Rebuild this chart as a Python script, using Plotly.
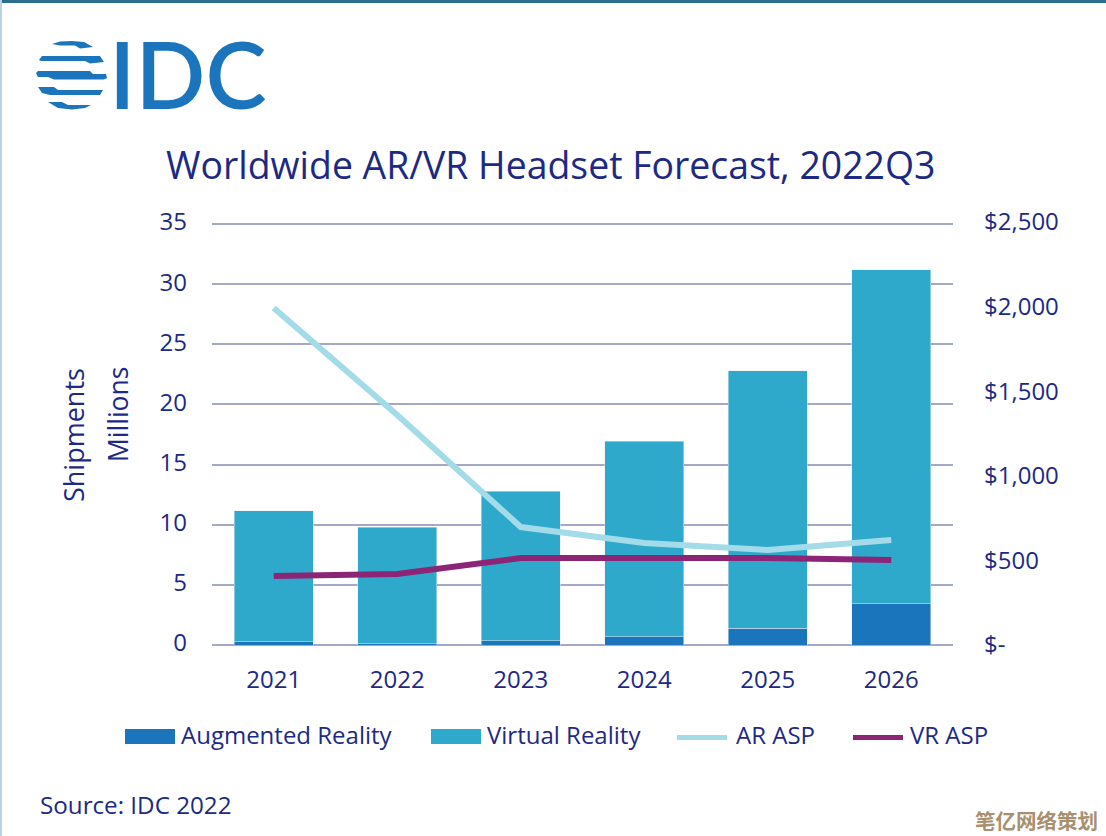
import plotly.graph_objects as go

years = ["2021", "2022", "2023", "2024", "2025", "2026"]
ar_units = [0.25, 0.10, 0.35, 0.70, 1.40, 3.45]
vr_units = [10.90, 9.67, 12.45, 16.25, 21.40, 27.75]
ar_asp = [1992, 1359, 697, 603, 561, 620]
vr_asp = [408, 420, 514, 514, 514, 502]
left_ticks = [0, 5, 10, 15, 20, 25, 30, 35]
right_vals = [0, 500, 1000, 1500, 2000, 2500]
right_text = ["$-", "$500", "$1,000", "$1,500", "$2,000", "$2,500"]

W, H = 1106, 836
L, R, T, B = 212, 953, 222, 645
NAVY = "#1c2a85"
GRID = "#a3a9c8"
AR_C, VR_C, ARL_C, VRL_C = "#1b75bc", "#2fa9cb", "#a3dbe9", "#8d2577"
FONT = "Open Sans"


def px(x):
    return (x - L) / (R - L)


def py(y):
    return (B - y) / (B - T)


fig = go.Figure()
fig.add_bar(x=years, y=ar_units, name="Augmented Reality", marker_color=AR_C, yaxis="y")
fig.add_bar(x=years, y=vr_units, name="Virtual Reality", marker_color=VR_C, yaxis="y")
fig.add_scatter(x=years, y=ar_asp, name="AR ASP", mode="lines", yaxis="y2",
                line=dict(color=ARL_C, width=6))
fig.add_scatter(x=years, y=vr_asp, name="VR ASP", mode="lines", yaxis="y2",
                line=dict(color=VRL_C, width=6))

shapes = []


def rect(x0, y0, x1, y1, color):
    shapes.append(dict(type="rect", xref="paper", yref="paper", x0=px(x0), x1=px(x1),
                       y0=py(y0), y1=py(y1), fillcolor=color, line_width=0, layer="above"))


def poly(points, color):
    d = "M" + " L".join(f"{px(a):.5f},{py(b):.5f}" for a, b in points) + " Z"
    shapes.append(dict(type="path", xref="paper", yref="paper", path=d,
                       fillcolor=color, line_width=0, layer="above"))


# page edges
rect(0, 0, W, 3, "#2c6e8f")
rect(0, 0, 2, H, "#b9d3e6")
# logo globe stripes
poly([(52, 44), (60, 41.5), (72, 41), (84, 42), (93, 47), (80, 48.5), (75, 45.5), (60, 45.5)], AR_C)
poly([(39, 60), (42, 56), (100, 56), (104, 62), (90, 63.5), (85, 61), (41, 61)], AR_C)
poly([(36, 73), (38, 71), (90, 71), (93, 74), (106, 74), (107, 78), (104, 79.5), (54, 79.5), (48, 77), (38, 77)], AR_C)
poly([(38, 87), (54, 87), (58, 90), (103, 90), (100, 95), (50, 95), (42, 93)], AR_C)
poly([(48, 102), (62, 102), (68, 105), (91, 105), (85, 108), (72, 109.5), (58, 108)], AR_C)

# legend swatches
rect(125, 729, 175, 744, AR_C)
rect(431, 729, 481, 744, VR_C)
rect(677, 735, 727, 740, ARL_C)
rect(853, 735, 903, 740, VRL_C)


def text(x, y, s, size, color=NAVY, anchor="left", angle=0, family=FONT, **kw):
    return dict(text=s, x=px(x), y=py(y), xref="paper", yref="paper", showarrow=False,
                xanchor=anchor, yanchor="middle", textangle=angle,
                font=dict(family=family, size=size, color=color, **kw))


annotations = [
    text(107, 73, "IDC", 92, color=AR_C, family="Lato", weight=600),
    text(164, 164, "Worldwide AR/VR Headset Forecast, 2022Q3", 37.4),
    text(73, 435, "Shipments", 27, anchor="center", angle=-90),
    text(118, 415, "Millions", 26.5, anchor="center", angle=-90),
    text(179, 734, "Augmented Reality", 24),
    text(485, 734, "Virtual Reality", 24),
    text(734, 734, "AR ASP", 24),
    text(908, 734, "VR ASP", 24),
    text(38, 804, "Source: IDC 2022", 24.2),
    text(1100, 820, "笔亿网络策划", 20.5, color="#a8906f", anchor="right",
         family="Noto Sans CJK SC", weight="bold"),
]

fig.update_layout(
    width=W, height=H, autosize=False,
    margin=dict(l=L, r=W - R, t=T, b=H - B, pad=0),
    paper_bgcolor="white", plot_bgcolor="white",
    barmode="stack", bargap=0.36, showlegend=False,
    font=dict(family=FONT, size=24, color=NAVY),
    shapes=shapes, annotations=annotations,
    xaxis=dict(type="category", showgrid=False, ticks="", showline=False,
               ticklabelstandoff=18, tickfont=dict(size=24, color=NAVY)),
    yaxis=dict(range=[0, 35.166], tickvals=left_ticks, gridcolor=GRID, gridwidth=1.5,
               zeroline=True, zerolinecolor=GRID, zerolinewidth=1.5, showline=False,
               ticks="", ticklabelstandoff=24, ticklabelshift=-2,
               tickfont=dict(size=24, color=NAVY)),
    yaxis2=dict(range=[0, 2500], overlaying="y", side="right", tickvals=right_vals,
                ticktext=right_text, showgrid=False, zeroline=False, showline=False,
                ticks="", ticklabelstandoff=30,
                tickfont=dict(size=24, color=NAVY)),
)

fig.write_html("out.html", config=dict(displayModeBar=False),
               post_script="document.body.style.margin='0';")
